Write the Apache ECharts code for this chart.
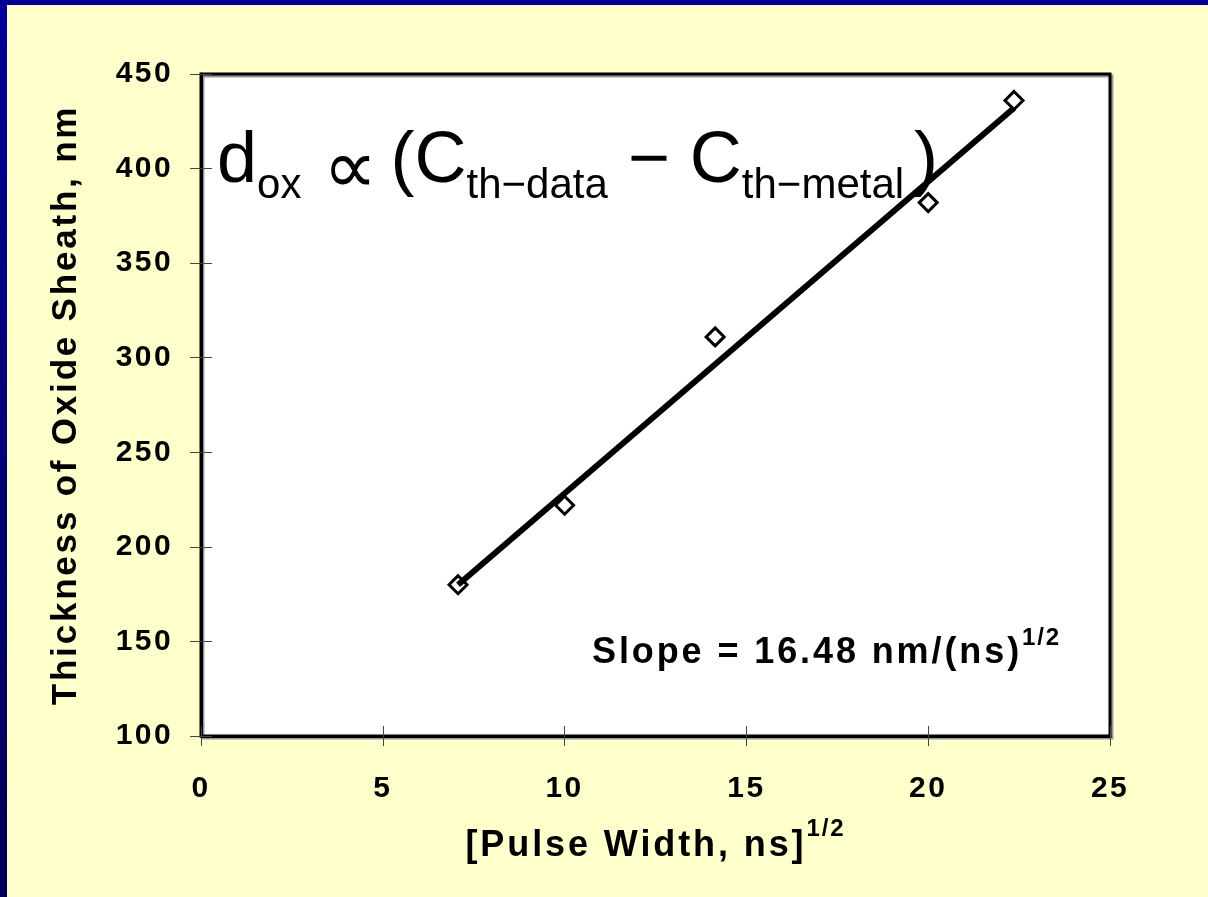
<!DOCTYPE html>
<html>
<head>
<meta charset="utf-8">
<script src="https://cdn.jsdelivr.net/npm/echarts@6/dist/echarts.min.js"></script>
<style>
  html, body { margin: 0; padding: 0; }
  #chart { width: 1208px; height: 897px; }
</style>
</head>
<body>
<div id="chart"></div>
<script>
// measured points: sqrt of pulse width vs oxide thickness
const pulseRoot = [7.07, 10.0, 14.14, 20.0, 22.36];
const thickness = [180, 222, 311, 382, 436];

// linear fit, slope 16.48 nm/(ns)^1/2
const fitX = [7.07, 22.36];
const fitY = [180, 432];

const xRange = [0, 25, 5];
const yRange = [100, 450, 50];

const FONT = "Liberation Sans";

// the slide text is Arial with loose tracking, canvas letterSpacing gets close
const fontDesc = Object.getOwnPropertyDescriptor(CanvasRenderingContext2D.prototype, "font");
Object.defineProperty(CanvasRenderingContext2D.prototype, "font", {
  get() { return fontDesc.get.call(this); },
  set(v) {
    fontDesc.set.call(this, v);
    if (!("letterSpacing" in this)) return;
    const m = /(\d+(\.\d+)?)px/.exec(v);
    const size = m ? parseFloat(m[1]) : 12;
    this.letterSpacing = /bold/.test(v) ? (size * 0.08).toFixed(1) + "px" : "0px";
  }
});

const chart = echarts.init(document.getElementById("chart"));

const tickStyle = { color: "#444", width: 1 };

const option = {
  backgroundColor: "#FFFFCC",
  animation: false,
  graphic: [
    { type: "rect", left: 0, top: 0, z: 100, shape: { width: 1208, height: 5 }, style: { fill: "#000099" } },
    {
      type: "rect", left: 0, top: 0, z: 100, shape: { width: 7, height: 897 },
      style: {
        fill: new echarts.graphic.LinearGradient(0, 0, 0, 1, [
          { offset: 0, color: "#000099" },
          { offset: 1, color: "#000055" }
        ])
      }
    },
    {
      type: "text", left: 217, top: 126, z: 50,
      style: {
        text: "{b|d}{s|ox}{p| ∝}{b|(C}{s|th−data}{b| − C}{s|th−metal}{c|)}",
        fill: "#000",
        rich: {
          b: { fontFamily: FONT, fontSize: 72, lineHeight: 72, verticalAlign: "top", fill: "#000" },
          c: { fontFamily: FONT, fontSize: 72, lineHeight: 72, verticalAlign: "top", padding: [0, 0, 0, 10], fill: "#000" },
          s: { fontFamily: FONT, fontSize: 42, lineHeight: 42, verticalAlign: "top", padding: [39, 0, 0, 0], fill: "#000" },
          p: { fontFamily: FONT, fontSize: 76, lineHeight: 76, verticalAlign: "top", padding: [8, 14, 0, 0], fill: "#000" }
        }
      }
    },
    {
      type: "text", left: 592, top: 625, z: 50,
      style: {
        text: "{a|Slope = 16.48 nm/(ns)}{s|1/2}",
        rich: {
          a: { fontFamily: FONT, fontSize: 36, fontWeight: "bold", lineHeight: 48, verticalAlign: "bottom", fill: "#000" },
          s: { fontFamily: FONT, fontSize: 24, fontWeight: "bold", lineHeight: 24, verticalAlign: "top", fill: "#000" }
        }
      }
    }
  ],
  grid: {
    left: 201, top: 74, width: 909, height: 662,
    show: true,
    backgroundColor: "#fff",
    borderColor: "#000",
    borderWidth: 3,
    shadowColor: "#999",
    shadowOffsetX: 2,
    shadowOffsetY: 2
  },
  xAxis: [
    {
      type: "value",
      min: xRange[0], max: xRange[1], interval: xRange[2],
      axisLine: { lineStyle: { color: "#000", width: 3 } },
      axisTick: { length: 10, lineStyle: tickStyle },
      axisLabel: { margin: 37, fontSize: 30, fontWeight: "bold", fontFamily: FONT, color: "#000" },
      splitLine: { show: false },
      name: "{a|[Pulse Width, ns]}{s|1/2}",
      nameLocation: "middle",
      nameGap: 80,
      nameTextStyle: {
        rich: {
          a: { fontFamily: FONT, fontSize: 36, fontWeight: "bold", lineHeight: 50, verticalAlign: "bottom", color: "#000" },
          s: { fontFamily: FONT, fontSize: 24, fontWeight: "bold", lineHeight: 24, verticalAlign: "top", color: "#000" }
        }
      }
    },
    {
      type: "value", position: "bottom",
      min: xRange[0], max: xRange[1], interval: xRange[2],
      axisLine: { show: false },
      axisTick: { inside: true, length: 10, lineStyle: tickStyle },
      axisLabel: { show: false },
      splitLine: { show: false }
    }
  ],
  yAxis: [
    {
      type: "value",
      min: yRange[0], max: yRange[1], interval: yRange[2],
      axisLine: { show: true, lineStyle: { color: "#000", width: 3 } },
      axisTick: { show: true, length: 11, lineStyle: tickStyle },
      axisLabel: { margin: 28, fontSize: 30, fontWeight: "bold", fontFamily: FONT, color: "#000" },
      splitLine: { show: false },
      name: "Thickness of Oxide Sheath, nm",
      nameLocation: "middle",
      nameRotate: 90,
      nameGap: 116,
      nameTextStyle: { fontFamily: FONT, fontSize: 35, fontWeight: "bold", color: "#000" }
    },
    {
      type: "value", position: "left",
      min: yRange[0], max: yRange[1], interval: yRange[2],
      axisLine: { show: false },
      axisTick: { show: true, inside: true, length: 11, lineStyle: tickStyle },
      axisLabel: { show: false },
      splitLine: { show: false }
    }
  ],
  series: [
    {
      name: "Data",
      type: "scatter",
      xAxisIndex: 0, yAxisIndex: 0,
      symbol: "diamond",
      symbolSize: 18,
      itemStyle: { color: "#fff", borderColor: "#000", borderWidth: 3, opacity: 1 },
      data: pulseRoot.map((x, i) => [x, thickness[i]])
    },
    {
      name: "Fit",
      type: "line",
      xAxisIndex: 0, yAxisIndex: 0,
      symbol: "none",
      lineStyle: { color: "#000", width: 6 },
      data: fitX.map((x, i) => [x, fitY[i]])
    }
  ]
};

chart.setOption(option);
</script>
</body>
</html>
